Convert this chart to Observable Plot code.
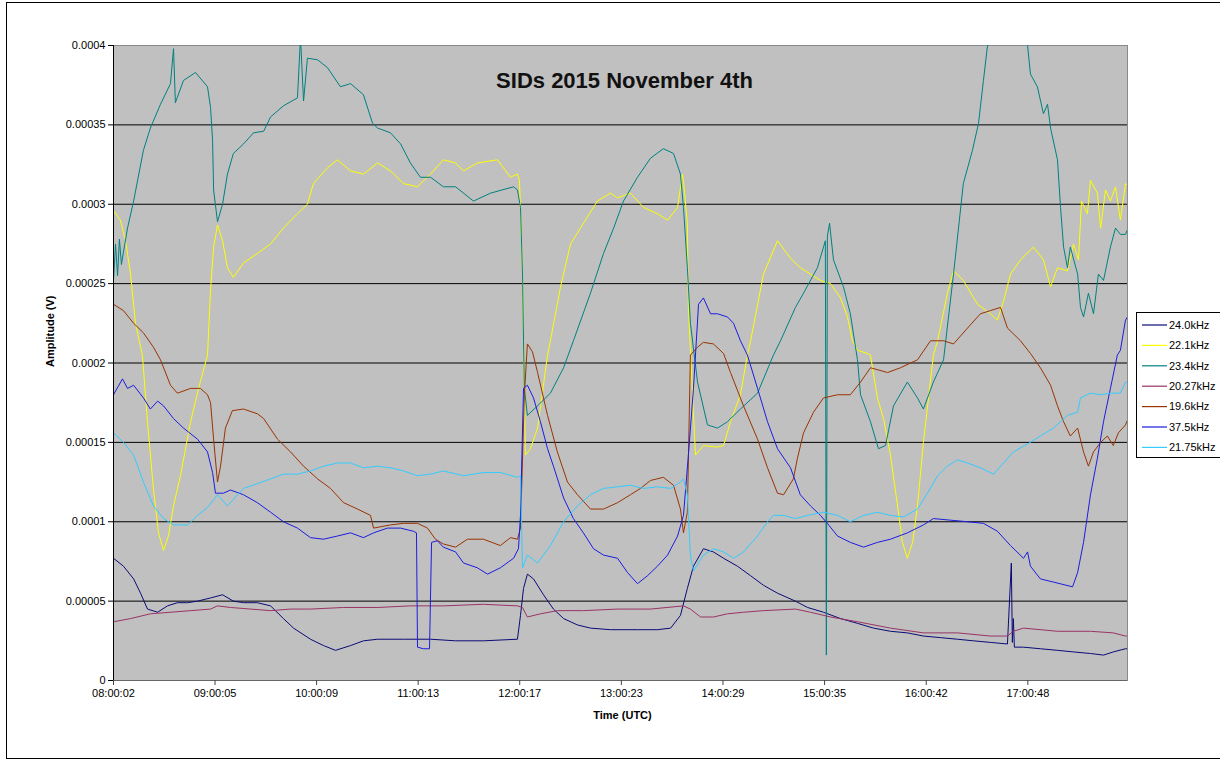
<!DOCTYPE html>
<html>
<head>
<meta charset="utf-8">
<script src="https://cdn.jsdelivr.net/npm/d3@7"></script>
<script src="https://cdn.jsdelivr.net/npm/@observablehq/plot@0.6"></script>
<style>
  html, body { margin: 0; padding: 0; background: #fff; overflow: hidden; }
  body { font-family: "Liberation Sans", Arial, sans-serif; }
  #chart { position: relative; width: 1220px; height: 762px; overflow: hidden; }
  #chart svg.plot { position: absolute; left: 0; top: 0; }
  #border { position: absolute; left: 6px; top: 2px; width: 1240px; height: 757px; border: 1px solid #000; box-sizing: border-box; pointer-events: none; }
  #legend { position: absolute; left: 1136px; top: 312px; }
</style>
</head>
<body>
<div id="chart"><div id="border"></div></div>
<script>
// ---- Data (time = minutes after 08:00:02 UTC, amplitude in microvolts) ----
const seriesNames  = ["24.0kHz", "22.1kHz", "23.4kHz", "20.27kHz", "19.6kHz", "37.5kHz", "21.75kHz"];
const seriesColors = ["#0a0a78", "#ffff00", "#008080", "#993366", "#993300", "#1c1ce0", "#33ccff"];

const s24_0 = [[0,77],[5.9,72],[11.9,64],[16.0,55],[20.1,45],[26.1,43],[31.9,47],[37.8,49],[43.8,49],[49.7,50],[57.4,52],[64.5,54],[70.9,50],[76.9,49],[85.1,49],[92.9,47],[100.5,39],[106.5,33],[116.5,26],[124.2,22],[131.3,19],[140.2,22],[147.8,25],[156.2,26],[171.5,26],[187.5,26],[202.3,25],[218.8,25],[238.9,26],[240.7,41],[242.5,58],[244.8,67],[248.4,64],[254.3,54],[260.2,45],[266.2,39],[274.4,35],[282.1,33],[293.9,32],[309.9,32],[321.7,32],[329.5,33],[335.3,41],[339.4,58],[343.0,72],[348.9,83],[354.8,81],[360.8,77],[369.0,72],[376.8,66],[384.4,60],[392.7,55],[403.3,50],[410.5,46],[419.9,43],[430.0,39],[440.0,36],[449.5,33],[459.5,31],[469.5,30],[479.0,28],[489.1,27],[499.1,26],[508.6,25],[518.6,24],[528.7,23],[531.0,74],[531.6,24],[532.2,39],[532.8,21],[538.2,21],[548.2,20],[558.3,19],[567.8,18],[577.8,17],[585.5,16],[591.3,18],[598.5,20],[599.7,20]];

const s22_1 = [[0,296],[4.1,290],[7.1,277],[10.1,256],[13.0,225],[17.1,205],[20.1,163],[23.6,121],[26.6,93],[29.6,82],[32.5,91],[35.5,110],[39.6,129],[45.6,163],[50.3,184],[55.6,205],[57.4,246],[59.2,273],[61.5,287],[64.5,277],[67.4,260],[70.9,254],[76.9,263],[85.1,269],[92.9,275],[100.5,285],[108.8,294],[114.7,300],[118.2,313],[126.6,323],[132.4,328],[140.2,321],[147.8,319],[156.2,326],[163.8,321],[171.5,313],[179.8,311],[187.5,319],[195.1,328],[202.3,326],[207.0,321],[215.2,326],[227.1,328],[234.8,317],[238.9,319],[240.1,315],[241.9,256],[243.6,142],[246.6,146],[250.8,159],[256.7,205],[258.4,214],[264.4,248],[270.3,275],[277.9,288],[286.2,302],[293.9,307],[298.1,304],[305.7,307],[313.5,298],[321.7,294],[327.7,290],[333.6,298],[336.5,319],[337.1,315],[339.4,288],[340.0,235],[344.2,142],[348.9,148],[357.2,147],[360.8,148],[364.9,163],[370.8,180],[374.9,205],[376.8,214],[384.4,256],[392.7,277],[400.4,266],[406.2,260],[412.2,256],[418.1,252],[424.1,250],[430.0,241],[434.1,229],[437.0,214],[440.0,208],[445.9,206],[447.7,205],[451.8,178],[455.4,165],[459.5,142],[463.7,110],[466.6,87],[469.5,77],[472.6,87],[475.5,110],[479.0,150],[484.9,205],[487.4,214],[493.2,244],[496.8,258],[502.6,252],[511.0,237],[518.6,231],[522.8,227],[526.4,239],[530.5,256],[536.4,265],[544.1,273],[550.0,265],[554.2,248],[558.3,260],[564.2,258],[567.8,275],[570.7,265],[572.5,302],[576.0,294],[577.8,315],[581.9,307],[583.8,285],[586.7,309],[589.6,302],[592.6,311],[595.5,290],[598.5,313],[599.7,312]];

const s23_4 = [[0,252],[1.2,275],[2.4,255],[3.5,278],[4.7,262],[5.9,270],[8.3,285],[11.9,302],[17.7,334],[21.8,348],[27.8,363],[33.7,376],[35.5,398],[36.6,364],[41.4,378],[48.5,383],[55.6,374],[57.4,361],[58.6,340],[59.2,309],[61.5,289],[64.5,300],[67.4,319],[70.9,332],[76.9,338],[82.8,345],[88.8,346],[92.9,355],[100.5,362],[108.8,367],[110.6,405],[112.4,365],[114.7,392],[120.7,391],[126.6,386],[134.2,374],[140.2,376],[147.8,369],[153.2,351],[156.2,348],[163.8,345],[169.8,338],[175.6,326],[181.5,317],[187.5,317],[195.1,311],[202.3,311],[212.9,302],[223.0,307],[236.6,311],[238.9,309],[240.7,298],[241.9,256],[242.5,214],[243.0,184],[244.8,167],[250.8,173],[258.4,181],[266.2,197],[272.0,214],[282.1,244],[289.8,269],[295.8,285],[301.6,302],[309.9,317],[317.6,329],[325.2,335],[331.2,332],[335.3,319],[337.1,298],[339.4,260],[341.2,225],[345.4,188],[351.3,161],[357.2,159],[363.1,163],[370.8,171],[380.9,181],[390.3,205],[394.5,214],[403.3,235],[408.1,244],[416.3,260],[421.0,277],[421.6,16],[422.2,280],[423.5,288],[425.8,265],[431.7,248],[435.8,231],[440.0,202],[441.8,180],[447.7,163],[452.4,146],[456.6,148],[461.3,173],[469.5,188],[475.5,178],[479.0,171],[484.9,188],[490.9,202],[496.8,256],[502.6,313],[508.0,334],[511.6,351],[514.5,378],[516.8,399],[521.7,415],[527.5,420],[536.4,410],[540.6,400],[542.3,382],[546.4,374],[550.0,357],[552.4,363],[554.2,348],[558.3,328],[560.1,298],[561.9,273],[564.2,260],[565.9,273],[570.2,256],[571.9,235],[573.7,229],[576.6,244],[579.6,231],[582.5,256],[585.5,252],[589.6,273],[592.6,285],[595.5,281],[598.5,281],[599.7,284]];

const s20_27 = [[0,37],[10.1,39],[21.8,42],[33.7,43],[45.6,44],[57.4,45],[61.5,47],[69.2,46],[81.0,45],[92.9,44],[104.7,45],[116.5,45],[136.1,46],[156.2,46],[175.6,47],[195.1,47],[218.8,48],[238.9,47],[241.9,46],[244.8,40],[252.5,42],[262.5,44],[277.9,44],[298.1,45],[317.6,45],[337.1,47],[341.2,45],[347.2,40],[354.8,40],[363.1,42],[372.6,43],[384.4,44],[403.3,45],[412.2,43],[424.1,40],[440.0,37],[459.5,33],[479.0,30],[499.1,30],[518.6,28],[528.7,28],[532.2,31],[538.2,33],[558.3,31],[577.8,31],[591.3,30],[598.5,28],[599.7,28]];

const s19_6 = [[0,237],[5.9,233],[11.9,225],[17.7,219],[23.6,210],[27.8,202],[33.7,186],[37.8,181],[45.6,184],[51.4,184],[55.6,180],[57.4,175],[59.2,152],[61.5,125],[63.3,135],[66.2,159],[70.3,170],[76.9,171],[85.1,168],[88.8,165],[97.0,152],[104.7,144],[112.4,135],[120.7,127],[128.3,121],[136.1,112],[144.3,108],[152.0,104],[153.8,96],[163.8,98],[171.5,99],[179.8,99],[185.7,96],[190.4,89],[195.1,86],[202.3,84],[209.3,89],[218.8,89],[228.8,85],[234.8,90],[238.9,89],[240.7,96],[243.0,180],[244.8,212],[247.8,207],[250.8,194],[256.7,167],[262.5,144],[268.5,125],[274.4,117],[282.1,108],[289.8,108],[298.1,112],[305.7,117],[311.7,121],[317.6,126],[325.2,128],[331.2,123],[335.3,108],[337.1,93],[339.4,106],[341.2,205],[345.4,210],[348.9,213],[354.8,212],[360.8,206],[364.9,194],[372.6,173],[380.9,152],[386.8,134],[392.7,118],[396.3,117],[402.1,127],[404.5,140],[408.1,156],[414.0,169],[419.9,178],[428.2,180],[435.8,180],[441.8,188],[447.7,197],[457.8,194],[465.4,197],[471.4,200],[475.5,202],[483.2,214],[490.9,214],[496.8,212],[505.1,222],[512.7,231],[518.6,233],[524.6,235],[528.7,222],[536.4,214],[542.3,206],[548.2,197],[554.2,186],[558.3,173],[561.9,163],[565.9,154],[570.2,159],[573.7,144],[576.6,135],[579.6,144],[583.8,150],[587.8,154],[591.3,148],[594.3,156],[598.5,161],[599.7,164]];

const s37_5 = [[0,180],[5.3,190],[8.3,184],[11.9,186],[17.7,178],[21.8,171],[26.1,176],[29.6,173],[35.5,165],[41.4,159],[49.7,152],[55.6,144],[58.6,131],[60.3,118],[65.0,118],[69.2,120],[76.9,117],[85.1,112],[92.9,106],[100.5,100],[108.8,96],[116.5,90],[124.2,89],[132.4,91],[140.2,93],[147.8,90],[153.8,93],[162.0,96],[169.8,96],[177.4,94],[179.2,93],[179.8,21],[183.3,20],[186.9,20],[188.1,87],[191.6,88],[195.1,84],[202.3,81],[207.0,74],[215.2,71],[221.2,67],[228.8,71],[236.6,77],[239.5,83],[240.7,104],[242.5,184],[244.8,186],[248.4,178],[252.5,163],[256.7,146],[260.2,135],[266.2,115],[272.0,102],[277.9,93],[283.9,83],[289.8,79],[298.1,77],[304.0,68],[309.9,61],[315.8,66],[321.7,72],[327.7,79],[333.6,91],[337.1,104],[340.0,142],[343.0,184],[346.0,237],[348.9,241],[353.1,231],[357.2,231],[363.1,229],[366.7,225],[370.8,214],[374.9,205],[380.9,184],[386.8,163],[392.7,146],[400.4,134],[406.2,117],[412.2,110],[418.1,104],[422.2,99],[428.2,91],[435.8,87],[443.6,84],[451.8,87],[459.5,89],[469.5,93],[479.0,98],[484.9,102],[495.0,101],[505.1,100],[514.5,99],[522.8,94],[530.5,85],[538.2,77],[540.6,81],[542.3,72],[548.2,64],[555.9,62],[567.2,59],[570.2,68],[573.7,87],[577.8,117],[581.9,140],[585.5,163],[589.6,184],[593.7,205],[595.5,208],[598.5,227],[599.7,229]];

const s21_75 = [[0,156],[5.9,150],[11.9,142],[17.7,125],[23.6,110],[29.6,102],[35.5,98],[43.8,98],[49.7,104],[55.6,109],[61.5,117],[67.4,110],[73.4,117],[76.9,121],[85.1,124],[92.9,127],[100.5,130],[108.8,130],[116.5,132],[124.2,135],[132.4,137],[140.2,137],[147.8,134],[156.2,135],[163.8,134],[171.5,132],[179.8,129],[187.5,130],[195.1,132],[207.0,129],[218.8,131],[228.8,131],[238.9,128],[240.7,129],[241.9,71],[244.8,79],[250.8,74],[258.4,85],[266.2,100],[274.4,110],[282.1,117],[289.8,121],[298.1,122],[305.7,123],[313.5,121],[321.7,122],[329.5,121],[335.3,125],[337.1,127],[339.4,117],[341.2,79],[343.0,69],[348.9,79],[354.8,83],[360.8,81],[366.7,77],[372.6,81],[380.9,91],[386.8,100],[390.3,104],[396.3,104],[403.3,102],[410.5,104],[419.9,106],[428.2,104],[435.8,100],[443.6,104],[451.8,106],[459.5,104],[467.2,103],[475.5,108],[481.4,118],[487.4,129],[493.2,135],[499.1,139],[505.1,137],[512.7,134],[520.5,130],[526.4,137],[532.2,144],[540.6,149],[548.2,154],[555.9,159],[564.2,167],[570.2,169],[571.9,178],[577.8,181],[583.8,180],[589.6,181],[595.5,181],[598.5,188],[599.7,188]];

const seriesData = [s24_0, s22_1, s23_4, s20_27, s19_6, s37_5, s21_75];

const xTickLabels = ["08:00:02","09:00:05","10:00:09","11:00:13","12:00:17","13:00:23","14:00:29","15:00:35","16:00:42","17:00:48"];
const yTickValues = [0, 0.00005, 0.0001, 0.00015, 0.0002, 0.00025, 0.0003, 0.00035, 0.0004];
const yTickLabels = ["0","0.00005","0.0001","0.00015","0.0002","0.00025","0.0003","0.00035","0.0004"];

const chartTitle = "SIDs 2015 November 4th";
const xTitle = "Time (UTC)";
const yTitle = "Amplitude (V)";

const dayStart = Date.UTC(2015, 10, 4, 8, 0, 2);
const endMinutes = 599.7;

// ---- Build table ----
const toDate = m => new Date(dayStart + m * 60000);
const rows = [];
seriesNames.forEach((name, i) => {
  seriesData[i].forEach(([m, uv]) => rows.push({series: name, time: toDate(m), value: uv * 1e-6}));
});
const xTicks = xTickLabels.map(s => {
  const [h, mi, se] = s.split(":").map(Number);
  return new Date(Date.UTC(2015, 10, 4, h, mi, se));
});
const xLabelOf = d => xTickLabels[xTicks.findIndex(t => t.getTime() === +d)];
const yLabelOf = d => yTickLabels[yTickValues.indexOf(d)];

const font = '"Liberation Sans", Arial, sans-serif';

const plot = Plot.plot({
  width: 1220,
  height: 762,
  marginLeft: 113,
  marginRight: 93,
  marginTop: 45,
  marginBottom: 82,
  style: {fontFamily: font, fontSize: "11px", color: "#000", background: "transparent", overflow: "visible"},
  x: {type: "utc", domain: [toDate(0), toDate(endMinutes)]},
  y: {domain: [0, 0.0004]},
  color: {domain: seriesNames, range: seriesColors},
  marks: [
    Plot.frame({fill: "#c0c0c0", stroke: "#8a8a8a"}),
    Plot.ruleY(yTickValues.slice(1, -1), {stroke: "#000", strokeWidth: 1}),
    Plot.line(rows, {x: "time", y: "value", z: "series", stroke: "series", strokeWidth: 1, clip: true}),
    Plot.ruleX([toDate(0)], {stroke: "#000"}),
    Plot.ruleY([0], {stroke: "#666"}),
    Plot.axisY({ticks: yTickValues, tickFormat: yLabelOf, tickSize: 5, tickPadding: 3, fontSize: 11, label: null, stroke: "#000"}),
    Plot.axisX({ticks: xTicks, tickFormat: xLabelOf, tickSize: 5, tickPadding: 4, fontSize: 11, label: null, stroke: "#444"}),
    Plot.text([chartTitle], {text: d => d, frameAnchor: "top", dx: 4, dy: 27, fontSize: 22, fontWeight: "bold", fill: "#111"}),
    Plot.text([yTitle], {text: d => d, frameAnchor: "left", rotate: -90, dx: -63, dy: 4, fontSize: 11, fontWeight: "bold", fill: "#000"}),
    Plot.text([xTitle], {text: d => d, frameAnchor: "bottom", dx: 2, dy: 38, fontSize: 11, fontWeight: "bold", fill: "#000"})
  ]
});
plot.classList.add("plot");
document.getElementById("chart").prepend(plot);

// ---- Legend ----
const lg = d3.select("#chart").append("svg")
  .attr("id", "legend")
  .attr("width", 100)
  .attr("height", 148)
  .style("font-family", font)
  .style("font-size", "11px");
lg.append("rect").attr("x", 0.5).attr("y", 0.5).attr("width", 120).attr("height", 145)
  .attr("fill", "#fff").attr("stroke", "#000");
seriesNames.forEach((name, i) => {
  const cy = 13 + i * 20.4;
  lg.append("line").attr("x1", 6).attr("x2", 31).attr("y1", cy).attr("y2", cy)
    .attr("stroke", seriesColors[i]).attr("stroke-width", 1.2);
  lg.append("text").attr("x", 33).attr("y", cy).attr("dy", "0.35em").attr("fill", "#000").text(name);
});
</script>
</body>
</html>
